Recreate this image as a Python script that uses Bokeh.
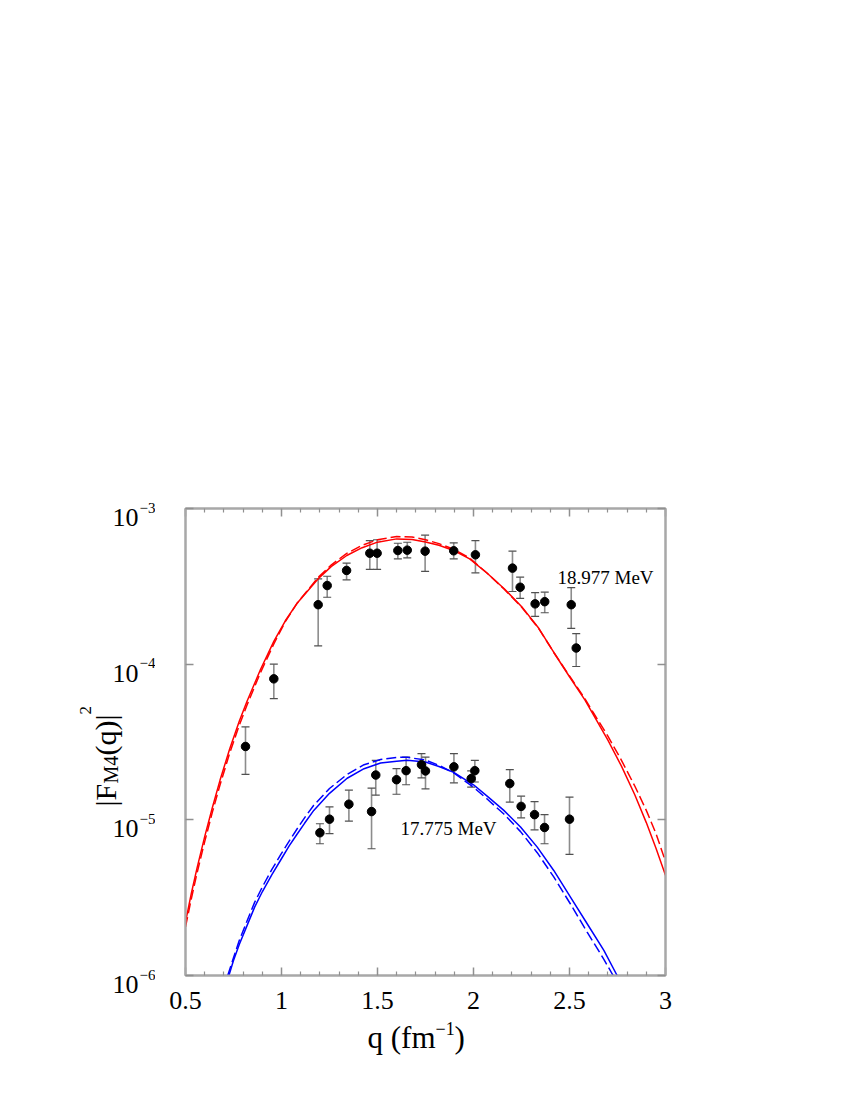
import math
from bokeh.plotting import figure
from bokeh.layouts import row, column
from bokeh.models import (Label, Whisker, TeeHead, ColumnDataSource, FixedTicker,
                          LinearAxis, LogAxis, CustomJSTickFormatter, Range1d)
from bokeh.embed import file_html
from bokeh.resources import INLINE

# ---------------- data ----------------
# 18.977 MeV data
q_hi = [0.8125, 0.96, 1.191, 1.238, 1.339, 1.46, 1.498, 1.606, 1.655, 1.748, 1.897, 2.01, 2.203, 2.243, 2.321, 2.371, 2.509, 2.535]
f_hi = [2.96e-5, 8.05e-5, 2.41e-4, 3.2e-4, 4.0e-4, 5.16e-4, 5.16e-4, 5.37e-4, 5.4e-4, 5.32e-4, 5.35e-4, 5.04e-4, 4.14e-4, 3.12e-4, 2.44e-4, 2.52e-4, 2.41e-4, 1.27e-4]
f_hi_up = [3.95e-5, 1.0e-4, 3.53e-4, 3.67e-4, 4.46e-4, 6.22e-4, 6.3e-4, 5.98e-4, 6.07e-4, 6.74e-4, 6.02e-4, 6.22e-4, 5.32e-4, 3.62e-4, 2.88e-4, 2.9e-4, 3.1e-4, 1.57e-4]
f_hi_dn = [1.96e-5, 6.0e-5, 1.31e-4, 2.69e-4, 3.48e-4, 4.06e-4, 4.06e-4, 4.75e-4, 4.82e-4, 3.94e-4, 4.75e-4, 3.86e-4, 2.93e-4, 2.65e-4, 2.03e-4, 2.14e-4, 1.70e-4, 9.66e-5]

# 17.775 MeV data
q_lo = [1.2, 1.25, 1.351, 1.469, 1.491, 1.599, 1.649, 1.729, 1.75, 1.898, 1.988, 2.007, 2.189, 2.248, 2.318, 2.37, 2.5]
f_lo = [8.26e-6, 1.01e-5, 1.26e-5, 1.13e-5, 1.94e-5, 1.81e-5, 2.07e-5, 2.26e-5, 2.06e-5, 2.19e-5, 1.84e-5, 2.07e-5, 1.71e-5, 1.22e-5, 1.08e-5, 8.93e-6, 1.01e-5]
f_lo_up = [9.44e-6, 1.21e-5, 1.55e-5, 1.6e-5, 2.41e-5, 2.13e-5, 2.53e-5, 2.66e-5, 2.53e-5, 2.66e-5, 2.06e-5, 2.41e-5, 2.1e-5, 1.42e-5, 1.31e-5, 1.08e-5, 1.4e-5]
f_lo_dn = [7.02e-6, 8.15e-6, 9.82e-6, 6.52e-6, 1.44e-5, 1.46e-5, 1.68e-5, 1.86e-5, 1.58e-5, 1.73e-5, 1.62e-5, 1.75e-5, 1.3e-5, 1.03e-5, 8.63e-6, 7.02e-6, 6.0e-6]

# theory curves, 18.977 MeV
qc_red = [0.50, 0.53, 0.56, 0.60, 0.64, 0.68, 0.73, 0.78, 0.82, 0.89, 0.96, 1.02, 1.08, 1.19, 1.26, 1.34, 1.42, 1.50, 1.60, 1.68, 1.75, 1.82, 1.90, 1.98, 2.07, 2.16, 2.25, 2.34, 2.42, 2.50, 2.58, 2.63, 2.70, 2.77, 2.84, 2.90, 2.95, 3.00]
red_solid = [2.2e-6, 3.35e-6, 4.9e-6, 7.8e-6, 1.2e-5, 1.8e-5, 2.85e-5, 4.3e-5, 5.75e-5, 9.2e-5, 1.4e-4, 1.9e-4, 2.45e-4, 3.53e-4, 4.25e-4, 4.99e-4, 5.6e-4, 6.08e-4, 6.38e-4, 6.32e-4, 6.1e-4, 5.8e-4, 5.35e-4, 4.75e-4, 3.85e-4, 3.05e-4, 2.35e-4, 1.7e-4, 1.18e-4, 8.3e-5, 5.9e-5, 4.6e-5, 3.25e-5, 2.22e-5, 1.45e-5, 9.6e-6, 6.6e-6, 4.4e-6]
red_dash = [2.05e-6, 3.1e-6, 4.55e-6, 7.25e-6, 1.12e-5, 1.68e-5, 2.68e-5, 4.05e-5, 5.45e-5, 8.8e-5, 1.35e-4, 1.88e-4, 2.45e-4, 3.6e-4, 4.35e-4, 5.15e-4, 5.8e-4, 6.3e-4, 6.6e-4, 6.55e-4, 6.3e-4, 5.95e-4, 5.45e-4, 4.8e-4, 3.85e-4, 3.03e-4, 2.33e-4, 1.69e-4, 1.18e-4, 8.4e-5, 6.0e-5, 4.75e-5, 3.45e-5, 2.42e-5, 1.65e-5, 1.15e-5, 8.2e-6, 5.4e-6]

# theory curves, 17.775 MeV
qc_blue_s = [0.726, 0.75, 0.78, 0.821, 0.86, 0.90, 0.95, 0.995, 1.04, 1.08, 1.12, 1.168, 1.25, 1.342, 1.43, 1.516, 1.60, 1.655, 1.75, 1.82, 1.897, 2.00, 2.071, 2.158, 2.245, 2.332, 2.418, 2.505, 2.592, 2.679, 2.748]
blue_solid = [1.0e-6, 1.25e-6, 1.58e-6, 2.1e-6, 2.75e-6, 3.45e-6, 4.45e-6, 5.5e-6, 6.8e-6, 8.05e-6, 9.5e-6, 1.15e-5, 1.48e-5, 1.85e-5, 2.13e-5, 2.32e-5, 2.38e-5, 2.41e-5, 2.35e-5, 2.2e-5, 2.02e-5, 1.68e-5, 1.42e-5, 1.15e-5, 9.0e-6, 6.68e-6, 4.73e-6, 3.19e-6, 2.15e-6, 1.45e-6, 1.0e-6]
qc_blue_d = [0.72, 0.75, 0.78, 0.821, 0.86, 0.90, 0.95, 0.995, 1.04, 1.08, 1.12, 1.168, 1.25, 1.342, 1.43, 1.516, 1.60, 1.655, 1.75, 1.82, 1.897, 2.00, 2.071, 2.158, 2.245, 2.332, 2.418, 2.505, 2.592, 2.679, 2.727]
blue_dash = [1.0e-6, 1.3e-6, 1.68e-6, 2.25e-6, 2.95e-6, 3.7e-6, 4.8e-6, 5.95e-6, 7.3e-6, 8.7e-6, 1.03e-5, 1.24e-5, 1.59e-5, 1.96e-5, 2.26e-5, 2.44e-5, 2.52e-5, 2.52e-5, 2.42e-5, 2.24e-5, 2.0e-5, 1.62e-5, 1.36e-5, 1.09e-5, 8.4e-6, 6.15e-6, 4.3e-6, 2.88e-6, 1.9e-6, 1.27e-6, 1.0e-6]

x_ticks = [0.5, 1.0, 1.5, 2.0, 2.5, 3.0]
x_tick_labels = ["0.5", "1", "1.5", "2", "2.5", "3"]
x_minor = [0.6, 0.7, 0.8, 0.9, 1.1, 1.2, 1.3, 1.4, 1.6, 1.7, 1.8, 1.9, 2.1, 2.2, 2.3, 2.4, 2.6, 2.7, 2.8, 2.9]
y_exponents = [-3, -4, -5, -6]
y_ticks = [1e-6, 1e-5, 1e-4, 1e-3]
label_hi = "18.977 MeV"
label_lo = "17.775 MeV"

# ---------------- layout geometry (page pixels) ----------------
FONT = "Liberation Serif"
X0, X1, Y0, Y1 = 0.5, 3.0, 1e-6, 1e-3
FL, FT, FW, FH = 185, 508, 480, 467      # main frame
LW = 155                                  # width of left text strip
RB = 177                                  # right border of main figure
MB = 39                                   # bottom border of main figure (tick labels)
TOP_H = FT + FH + MB                      # height of top row
TOTAL_W = FL + FW + RB
PAGE_H = 1092
BOT_H = PAGE_H - TOP_H

xtick = FixedTicker(ticks=x_ticks, minor_ticks=x_minor)
ytick = FixedTicker(ticks=y_ticks, minor_ticks=[])
blank = CustomJSTickFormatter(code="return ''")
xfmt = CustomJSTickFormatter(args=dict(vals=x_ticks, labs=x_tick_labels),
                             code="const i = vals.findIndex(v => Math.abs(v - tick) < 1e-9); return i >= 0 ? labs[i] : '';")


def no_align(fig):
    if "frame_align" in fig.properties():
        fig.frame_align = False


def style_axis(ax):
    ax.axis_line_color = "#a8a8a8"
    ax.axis_line_width = 2
    ax.major_tick_in = 8
    ax.major_tick_out = 0
    ax.minor_tick_in = 4
    ax.minor_tick_out = 0
    ax.major_tick_line_color = "#909090"
    ax.minor_tick_line_color = "#909090"
    ax.major_tick_line_width = 1.5
    ax.minor_tick_line_width = 1.2
    ax.major_label_standoff = 0


# ---------------- main plot ----------------
p = figure(x_range=Range1d(X0, X1), y_range=Range1d(Y0, Y1), y_axis_type="log",
           frame_width=FW, frame_height=FH,
           min_border_left=FL - LW, min_border_right=RB,
           min_border_top=FT, min_border_bottom=MB,
           output_backend="svg", toolbar_location=None,
           background_fill_color="white", border_fill_color="white")
no_align(p)
p.grid.visible = False
p.outline_line_color = "#a8a8a8"
p.outline_line_width = 2

xa = p.xaxis[0]
xa.ticker = xtick
style_axis(xa)
xa.formatter = xfmt
xa.major_label_text_font = FONT
xa.major_label_text_font_size = "26px"
xa.major_label_text_color = "black"
xa.major_label_standoff = 16

ya = p.yaxis[0]
ya.ticker = ytick
style_axis(ya)
ya.formatter = blank
ya.major_label_text_font_size = "0px"

top = LinearAxis(ticker=xtick, formatter=blank, major_label_text_font_size="0px")
style_axis(top)
p.add_layout(top, "above")
right = LogAxis(ticker=ytick, formatter=blank, major_label_text_font_size="0px")
style_axis(right)
p.add_layout(right, "right")

p.line(qc_red, red_solid, line_color="#ff0000", line_width=1.5)
p.line(qc_red, red_dash, line_color="#ff0000", line_width=1.5, line_dash="10 4")
p.line(qc_blue_s, blue_solid, line_color="#0000ff", line_width=1.5)
p.line(qc_blue_d, blue_dash, line_color="#0000ff", line_width=1.5, line_dash="10 4")

for qs, fs, up, dn in [(q_hi, f_hi, f_hi_up, f_hi_dn), (q_lo, f_lo, f_lo_up, f_lo_dn)]:
    src = ColumnDataSource(dict(q=qs, f=fs, up=up, dn=dn))
    w = Whisker(source=src, base="q", upper="up", lower="dn", dimension="height",
                line_color="#8c8c8c", line_width=1.6,
                upper_head=TeeHead(size=8, line_color="#505050", line_width=1.2),
                lower_head=TeeHead(size=8, line_color="#505050", line_width=1.2))
    p.add_layout(w)
    p.scatter("q", "f", source=src, size=8.5, color="black")

for px, py, txt in [(557, 577, label_hi), (400, 828, label_lo)]:
    p.add_layout(Label(x=px - FL, y=(FT + FH) - py, x_units="screen", y_units="screen",
                       text=txt, text_font=FONT, text_font_size="19px",
                       text_align="left", text_baseline="alphabetic", text_color="black"))


# ---------------- text strips (data coords == page pixels) ----------------
def strip(w, h, x0, y0):
    f = figure(width=w, height=h, x_range=Range1d(x0, x0 + w), y_range=Range1d(y0 + h, y0),
               min_border=0, x_axis_location=None, y_axis_location=None,
               output_backend="svg", toolbar_location=None,
               background_fill_color="white", border_fill_color="white")
    no_align(f)
    f.grid.visible = False
    f.outline_line_color = None
    return f


def put(fig, px, py, text, size, align="left", angle=0.0):
    fig.add_layout(Label(x=px, y=py, text=text, text_font=FONT, text_font_size=size, angle=angle,
                         text_align=align, text_baseline="alphabetic", text_color="black"))


lf = strip(LW, TOP_H, 0, 0)
for e in y_exponents:
    ty = FT + (math.log10(Y1) - e) / 3 * FH
    put(lf, 138, ty + 9, "10", "26px", align="right")
    put(lf, 139, ty - 1, "\u2212" + str(-e), "15px")

rot = math.pi / 2
put(lf, 105, 806, "|F", "30px", angle=rot)
put(lf, 110, 783, "M4", "20px", angle=rot)
put(lf, 105, 755, "(q)|", "30px", angle=rot)
put(lf, 85, 714, "2", "17px", angle=rot)

bf = strip(TOTAL_W, BOT_H, 0, TOP_H)
put(bf, 367, 1037, "q (fm", "31px")
put(bf, 435, 1028, "\u22121", "18px")
put(bf, 454, 1037, ")", "31px")

layout = column(row(lf, p), bf)
open("out.html", "w").write(file_html(layout, INLINE))
